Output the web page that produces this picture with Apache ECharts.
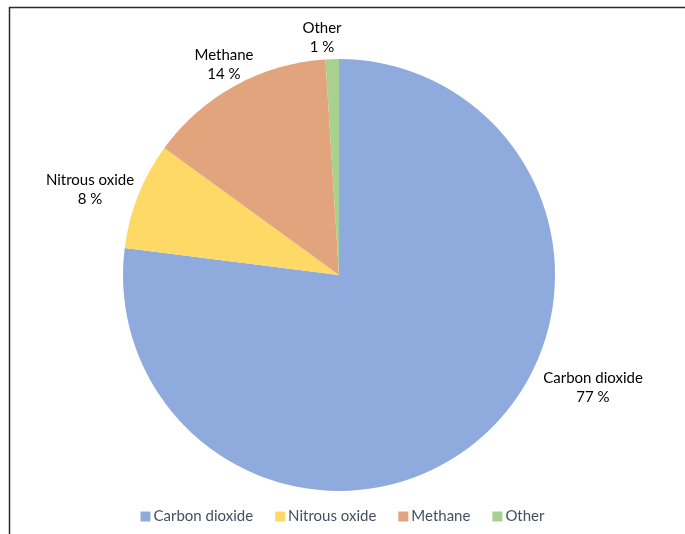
<!DOCTYPE html>
<html>
<head>
<meta charset="utf-8">
<script src="https://cdn.jsdelivr.net/npm/echarts@6/dist/echarts.min.js"></script>
<style>
  html, body { margin: 0; padding: 0; background: #fff; }
  #chart { width: 685px; height: 534px; }
</style>
</head>
<body>
<div id="chart"></div>
<script>
// data
const gases = ['Carbon dioxide', 'Nitrous oxide', 'Methane', 'Other']
const shares = [77, 8, 14, 1]
const colors = ['#8FAADC', '#FFD966', '#E2A47D', '#A9D18E']

// where each label sits (centre of text block)
const labelSpots = [
  [593, 388],
  [90, 190],
  [224, 65],
  [322, 38]
]

const chart = echarts.init(document.getElementById('chart'))

chart.setOption({
  animation: false,
  textStyle: { fontFamily: 'Lato, "Open Sans", sans-serif' },
  graphic: [{
    type: 'rect',
    silent: true,
    shape: { x: 9.5, y: 7.5, width: 900, height: 700 },
    style: { fill: 'none', stroke: '#2a2a2a', lineWidth: 1.5 }
  }],
  legend: {
    bottom: 5,
    left: 'center',
    itemWidth: 10,
    itemHeight: 10,
    itemGap: 22,
    icon: 'rect',
    data: gases,
    textStyle: { color: '#44505f', fontSize: 15, padding: [0, 0, 0, -2] }
  },
  series: [{
    type: 'pie',
    center: [339, 275],
    radius: 216,
    startAngle: 90,
    clockwise: true,
    color: colors,
    itemStyle: { borderWidth: 0 },
    label: {
      show: true,
      position: 'outside',
      overflow: 'none',
      formatter: p => p.name + '\n' + p.value + ' %',
      color: '#000',
      fontSize: 15,
      lineHeight: 19,
      align: 'center'
    },
    labelLine: { show: false },
    labelLayout: p => ({
      x: labelSpots[p.dataIndex][0],
      y: labelSpots[p.dataIndex][1],
      align: 'center',
      verticalAlign: 'middle'
    }),
    data: gases.map((g, i) => ({ name: g, value: shares[i] }))
  }]
})
</script>
</body>
</html>
